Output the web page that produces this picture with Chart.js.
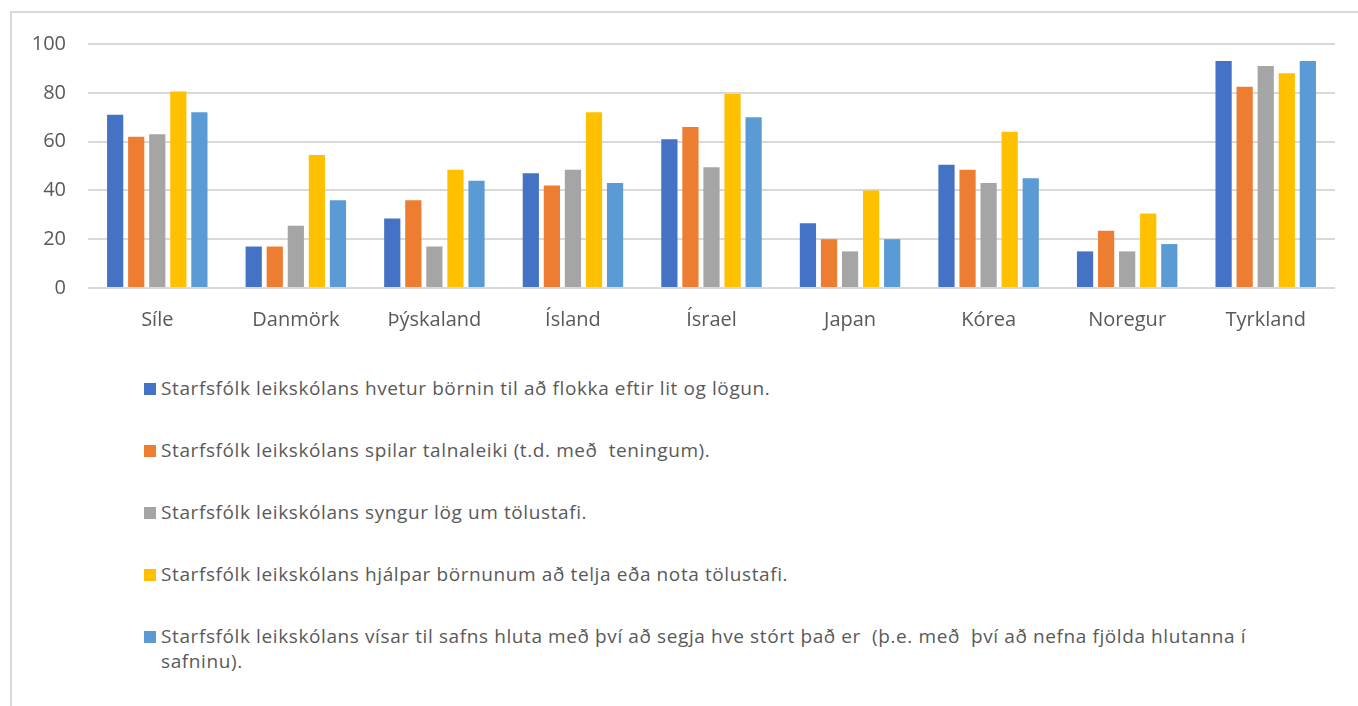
<!DOCTYPE html>
<html>
<head>
<meta charset="utf-8">
<script src="https://cdn.jsdelivr.net/npm/chart.js"></script>
<style>
  body { margin: 0; background: #fff; overflow: hidden; }
  #frame { position: absolute; left: 10px; top: 11px; width: 1400px; height: 760px; border: 2px solid #d9d9d9; box-sizing: border-box; }
  #hchart { position: absolute; left: 0; top: 0; }
  #legend { position: absolute; left: 144px; top: 376px; width: 1115px; font-family: "Open Sans", sans-serif; font-size: 19px; letter-spacing: 0.6px; color: #595959; white-space: pre-wrap; }
  .item { position: relative; padding-left: 17px; line-height: 25px; margin-bottom: 37px; }
  .box { position: absolute; left: 0; top: 7px; width: 12px; height: 12px; }
</style>
</head>
<body>
<div id="frame"></div>
<canvas id="hchart" width="1358" height="350"></canvas>
<div id="legend"></div>
<script>
const labels = ['Síle', 'Danmörk', 'Þýskaland', 'Ísland', 'Ísrael', 'Japan', 'Kórea', 'Noregur', 'Tyrkland'];

const flokka = [71, 17, 28.5, 47, 61, 26.5, 50.5, 15, 93];
const talnaleikir = [62, 17, 36, 42, 66, 20, 48.5, 23.5, 82.5];
const syngur = [63, 25.5, 17, 48.5, 49.5, 15, 43, 15, 91];
const telja = [80.5, 54.5, 48.5, 72, 79.5, 40, 64, 30.5, 88];
const safn = [72, 36, 44, 43, 70, 20, 45, 18, 93];

const seriesNames = [
    'Starfsfólk leikskólans hvetur börnin til að flokka eftir lit og lögun.',
    'Starfsfólk leikskólans spilar talnaleiki (t.d. með  teningum).',
    'Starfsfólk leikskólans syngur lög um tölustafi.',
    'Starfsfólk leikskólans hjálpar börnunum að telja eða nota tölustafi.',
    'Starfsfólk leikskólans vísar til safns hluta með því að segja hve stórt það er  (þ.e. með  því að nefna fjölda hlutanna í safninu).'
];
const colors = ['#4472c4', '#ed7d31', '#a5a5a5', '#ffc000', '#5b9bd5'];
const yTicks = [0, 20, 40, 60, 80, 100];

var ctx = document.getElementById("hchart").getContext('2d')

var data = {
    labels: labels,
    datasets: [flokka, talnaleikir, syngur, telja, safn].map(function(vals, i) {
        return {
            label: seriesNames[i],
            data: vals,
            backgroundColor: colors[i],
            categoryPercentage: 0.76,
            barPercentage: 0.77
        }
    })
}

var tickFont = { family: '"Open Sans", sans-serif', size: 20 }

var options = {
    responsive: false,
    animation: false,
    layout: { padding: { top: 44, right: 23, left: 0, bottom: 0 } },
    plugins: { legend: { display: false }, tooltip: { enabled: false } },
    scales: {
        x: {
            grid: { display: false },
            border: { display: false },
            ticks: { color: '#595959', font: tickFont, padding: 12, maxRotation: 0 },
            afterFit: function(scale) { scale.height = 62 }
        },
        y: {
            min: 0,
            max: 100,
            afterBuildTicks: function(scale) { scale.ticks = yTicks.map(function(v) { return { value: v } }) },
            grid: { color: '#d9d9d9', lineWidth: 2, drawTicks: false },
            border: { display: false },
            ticks: { color: '#595959', font: tickFont, padding: 22 },
            afterFit: function(scale) { scale.width = 88 }
        }
    }
}

var config = {
    type: 'bar',
    data: data,
    options: options
}
var hchart = new Chart(ctx, config)

var legend = document.getElementById('legend')
hchart.data.datasets.forEach(function(ds) {
    var item = document.createElement('div')
    item.className = 'item'
    var box = document.createElement('span')
    box.className = 'box'
    box.style.background = ds.backgroundColor
    item.appendChild(box)
    item.appendChild(document.createTextNode(ds.label))
    legend.appendChild(item)
})
</script>
</body>
</html>
